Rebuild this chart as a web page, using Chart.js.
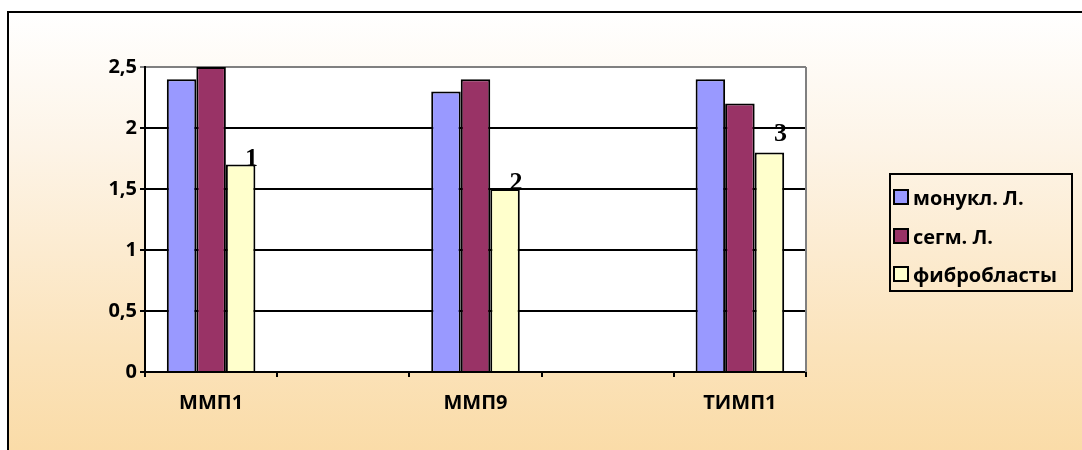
<!DOCTYPE html>
<html>
<head>
<meta charset="utf-8">
<script src="https://cdn.jsdelivr.net/npm/chart.js@4/dist/chart.umd.min.js"></script>
<style>
  html, body { margin: 0; padding: 0; background: #ffffff; }
  body { width: 1082px; height: 450px; position: relative; overflow: hidden; }
  #frame {
    position: absolute; left: 7px; top: 11px; right: -10px; bottom: -10px;
    border-left: 2px solid #000; border-top: 2px solid #000;
    background: linear-gradient(to bottom, #ffffff 0%, #fdf4e7 30%, #fbe3bb 75%, #fadba6 100%);
  }
  #wrap { position: absolute; left: 0; top: 0; width: 1082px; height: 450px; }
  #legend {
    position: absolute; left: 889px; top: 173px; width: 180px; height: 115px;
    border: 2px solid #000; box-sizing: content-box;
    font-family: "Open Sans", sans-serif; font-weight: bold; font-size: 20px; color: #000;
  }
  #legend .item { position: absolute; left: 2px; display: flex; align-items: center; height: 22px; white-space: nowrap; }
  #legend .sw { width: 12px; height: 12px; border: 2px solid #000; margin-right: 4px; }
</style>
</head>
<body>
<div id="frame"></div>
<div id="wrap"><canvas id="c" width="1082" height="450"></canvas></div>
<div id="legend"></div>
<script>
// Categories (empty slots keep the wide gaps between groups)
const categories = ['ММП1', '', 'ММП9', '', 'ТИМП1'];
const seriesNames = ['монукл. Л.', 'сегм. Л.', 'фибробласты'];
const mononuclear = [2.4, null, 2.3, null, 2.4];
const segmented   = [2.5, null, 2.4, null, 2.2];
const fibroblasts = [1.7, null, 1.5, null, 1.8];
const yTicks = [0, 0.5, 1, 1.5, 2, 2.5];
// Numbered marks above the fibroblast bars
const markTexts = ['1', null, '2', null, '3'];
const markLift = [0, 0, 0, 0, 12];

const colors = ['#9999FF', '#993366', '#FFFFCC'];
const FONT = '"Open Sans", sans-serif';

const plotBackground = {
  id: 'plotBackground',
  beforeDraw(chart) {
    const { ctx, chartArea: a } = chart;
    ctx.save();
    ctx.fillStyle = '#ffffff';
    ctx.fillRect(a.left, a.top, a.right - a.left, a.bottom - a.top);
    ctx.restore();
  },
  afterDatasetsDraw(chart) {
    const { ctx, chartArea: a } = chart;
    ctx.save();
    ctx.strokeStyle = '#808080';
    ctx.lineWidth = 2;
    ctx.beginPath();
    ctx.moveTo(a.right, a.top);
    ctx.lineTo(a.right, a.bottom);
    ctx.stroke();
    ctx.restore();
  }
};

const barMarks = {
  id: 'barMarks',
  afterDatasetsDraw(chart) {
    const { ctx } = chart;
    const meta = chart.getDatasetMeta(2);
    ctx.save();
    ctx.font = 'bold 26px "Liberation Serif", "Times New Roman", serif';
    ctx.fillStyle = '#000';
    ctx.textAlign = 'center';
    ctx.textBaseline = 'alphabetic';
    markTexts.forEach((t, i) => {
      if (!t) return;
      const bar = meta.data[i];
      ctx.fillText(t, bar.x + 11, bar.y + 1 - markLift[i]);
    });
    ctx.restore();
  }
};

const chart = new Chart(document.getElementById('c'), {
  type: 'bar',
  data: {
    labels: categories,
    datasets: [
      { label: seriesNames[0], data: mononuclear, backgroundColor: colors[0] },
      { label: seriesNames[1], data: segmented, backgroundColor: colors[1] },
      { label: seriesNames[2], data: fibroblasts, backgroundColor: colors[2] }
    ].map(d => Object.assign(d, { borderColor: '#000', borderWidth: 2, borderSkipped: 'bottom' }))
  },
  options: {
    responsive: false,
    animation: false,
    events: [],
    layout: { padding: { left: 0, top: 67, right: 276, bottom: 0 } },
    datasets: { bar: { categoryPercentage: 0.67, barPercentage: 1.0, skipNull: false } },
    plugins: { legend: { display: false }, tooltip: { enabled: false } },
    scales: {
      x: {
        afterFit(s) { s.height = 78; },
        grid: { display: true, drawOnChartArea: false, offset: true, color: '#000', lineWidth: 2, tickLength: 5 },
        border: { display: true, color: '#000', width: 2 },
        ticks: { color: '#000', font: { family: FONT, weight: 'bold', size: 20 }, padding: 14, maxRotation: 0, autoSkip: false }
      },
      y: {
        min: 0, max: 2.5,
        afterFit(s) { s.width = 145; },
        afterBuildTicks(s) { s.ticks = yTicks.map(v => ({ value: v })); },
        grid: {
          color: ctx => (ctx.tick && ctx.tick.value === 2.5) ? '#808080' : '#000',
          lineWidth: 2, tickLength: 5
        },
        border: { display: true, color: '#000', width: 2 },
        ticks: {
          color: '#000', font: { family: FONT, weight: 'bold', size: 20 }, padding: 3,
          callback: v => String(v).replace('.', ',')
        }
      }
    }
  },
  plugins: [plotBackground, barMarks]
});

// Legend built from the same series names and colours
const legend = document.getElementById('legend');
const rowTops = [11, 50, 88];
seriesNames.forEach((name, i) => {
  const row = document.createElement('div');
  row.className = 'item';
  row.style.top = rowTops[i] + 'px';
  const sw = document.createElement('span');
  sw.className = 'sw';
  sw.style.background = colors[i];
  const tx = document.createElement('span');
  tx.textContent = name;
  row.appendChild(sw);
  row.appendChild(tx);
  legend.appendChild(row);
});
</script>
</body>
</html>
